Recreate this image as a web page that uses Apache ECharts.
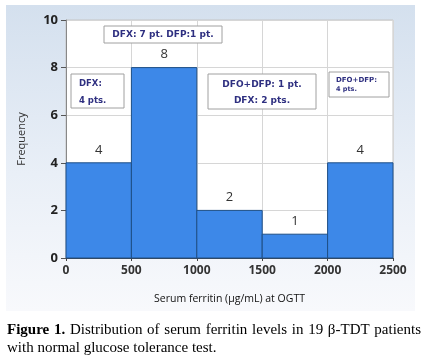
<!DOCTYPE html>
<html><head><meta charset="utf-8">
<script src="https://cdn.jsdelivr.net/npm/echarts@6/dist/echarts.min.js"></script>
<style>html,body{margin:0;padding:0;background:#fff}#c{width:425px;height:360px}</style>
</head><body><div id="c"></div>
<script>
var binStarts = [0, 500, 1000, 1500, 2000];
var binEnds = [500, 1000, 1500, 2000, 2500];
var frequencies = [4, 8, 2, 1, 4];
var xTicks = [0, 500, 1000, 1500, 2000, 2500];
var yTicks = [0, 2, 4, 6, 8, 10];

var data = binStarts.map(function (s, i) { return [s, binEnds[i], frequencies[i]]; });

var chart = echarts.init(document.getElementById('c'), null, {renderer: 'canvas'});
var annoColor = '#2e2f80';
var annoFont = 'DejaVu Sans';
function box(x, y, w, h) {
  return {type: 'rect', shape: {x: x, y: y, width: w, height: h}, z: 50,
    style: {fill: '#fff', stroke: '#a0a0a0', lineWidth: 1}};
}
function txt(x, y, t, size, align) {
  return {type: 'text', x: x, y: y, z: 51,
    style: {text: t, fill: annoColor, font: 'bold ' + size + 'px "' + annoFont + '"', textAlign: align || 'left', textVerticalAlign: 'middle'}};
}

// justified first caption line
var capSize = 15;
var capReg = capSize + 'px "Liberation Serif"';
var capBold = 'bold ' + capSize + 'px "Liberation Serif"';
var words = [['Figure', 1], ['1.', 1], ['Distribution', 0], ['of', 0], ['serum', 0], ['ferritin', 0], ['levels', 0], ['in', 0], ['19', 0], ['β-TDT', 0], ['patients', 0]];
var mctx = document.createElement('canvas').getContext('2d');
var widths = words.map(function (w) { mctx.font = w[1] ? capBold : capReg; return mctx.measureText(w[0]).width; });
var total = widths.reduce(function (a, b) { return a + b; }, 0);
var x0 = 7, x1 = 421;
var gap = (x1 - x0 - total) / (words.length - 1);
var capEls = [];
var cx = x0;
words.forEach(function (w, i) {
  capEls.push({type: 'text', x: cx, y: 330, style: {text: w[0], font: w[1] ? capBold : capReg, fill: '#000', textVerticalAlign: 'middle'}});
  cx += widths[i] + gap;
});
capEls.push({type: 'text', x: 7, y: 348, style: {text: 'with normal glucose tolerance test.', font: capReg, fill: '#000', textVerticalAlign: 'middle'}});

chart.setOption({
  animation: false,
  backgroundColor: '#fff',
  grid: {left: 66, right: 32, top: 20, bottom: 102, show: true, backgroundColor: '#fff', borderColor: '#c4c4c4', borderWidth: 1},
  xAxis: {
    type: 'value', min: 0, max: 2500, interval: 500,
    name: 'Serum ferritin (µg/mL) at OGTT', nameLocation: 'middle', nameGap: 36,
    nameTextStyle: {fontFamily: 'Open Sans', fontSize: 10.5, color: '#111'},
    axisLine: {show: true, lineStyle: {color: '#444', width: 1}},
    axisTick: {show: true, length: 3, lineStyle: {color: '#444'}},
    axisLabel: {margin: 7, fontFamily: 'Open Sans', fontWeight: 'bold', fontSize: 12, color: '#333',
      formatter: function (v) { return xTicks.indexOf(v) >= 0 ? String(v) : ''; }},
    splitLine: {show: true, lineStyle: {color: '#d6d6d6'}}
  },
  yAxis: {
    type: 'value', min: 0, max: 10, interval: 2,
    name: 'Frequency', nameLocation: 'middle', nameGap: 39, nameRotate: 90,
    nameTextStyle: {fontFamily: 'Open Sans', fontSize: 11, color: '#333'},
    axisLine: {show: true, lineStyle: {color: '#888', width: 1}},
    axisTick: {show: true, length: 5, lineStyle: {color: '#555'}},
    axisLabel: {margin: 8, fontFamily: 'Open Sans', fontWeight: 'bold', fontSize: 13, color: '#222',
      formatter: function (v) { return yTicks.indexOf(v) >= 0 ? String(v) : ''; }},
    splitLine: {show: true, lineStyle: {color: '#d6d6d6'}}
  },
  series: [{
    type: 'custom',
    data: data,
    encode: {x: [0, 1], y: 2},
    renderItem: function (params, api) {
      var p0 = api.coord([api.value(0), api.value(2)]);
      var p1 = api.coord([api.value(1), 0]);
      return {
        type: 'group',
        children: [
          {type: 'rect', shape: {x: p0[0], y: p0[1], width: p1[0] - p0[0], height: p1[1] - p0[1]},
            style: {fill: '#3d88e8', stroke: '#1e4f86', lineWidth: 1}},
          {type: 'text', x: (p0[0] + p1[0]) / 2, y: p0[1] - 13,
            style: {text: String(api.value(2)), fill: '#333', font: '13px "Open Sans"', textAlign: 'center', textVerticalAlign: 'middle'}}
        ]
      };
    }
  }],
  graphic: [
    {type: 'rect', shape: {x: 6, y: 5, width: 409, height: 306}, z: -10, silent: true,
      style: {fill: new echarts.graphic.LinearGradient(0, 0, 0, 1, [
        {offset: 0, color: '#d4e0ee'}, {offset: 0.55, color: '#e9eff7'}, {offset: 1, color: '#f8f9fc'}])}},
    box(104, 26, 118, 17), txt(163, 35, 'DFX: 7 pt. DFP:1 pt.', 9, 'center'),
    box(71, 74, 53, 34), txt(79, 84, 'DFX:', 8.5), txt(79, 101, '4 pts.', 8.5),
    box(208, 74, 108, 35), txt(262, 85, 'DFO+DFP: 1 pt.', 9, 'center'), txt(262, 101, 'DFX: 2 pts.', 9, 'center'),
    box(329, 72, 60, 25), txt(336, 80, 'DFO+DFP:', 7), txt(336, 89, '4 pts.', 6.5)
  ].concat(capEls)
});
</script></body></html>
